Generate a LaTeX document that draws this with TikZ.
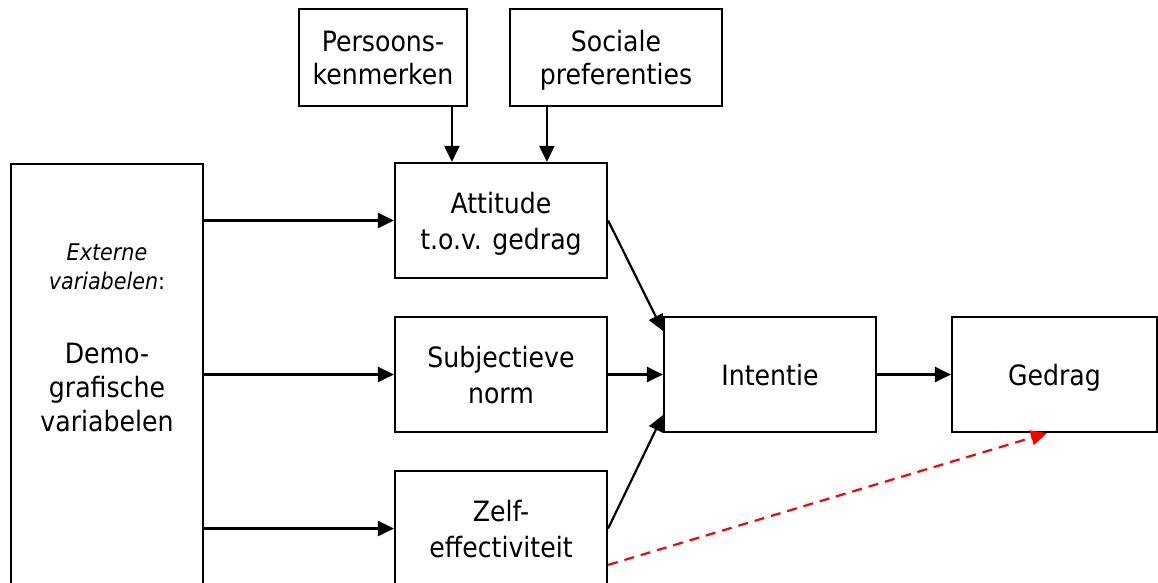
\documentclass[tikz,border=0pt]{standalone}
\usepackage{fontspec}
\setmainfont{DejaVu Sans Condensed}
\usetikzlibrary{arrows.meta,calc}

\begin{document}
\begin{tikzpicture}[x=1pt,y=-1pt,
  box/.style={draw,line width=2.2pt,align=center,inner sep=0pt,text depth=0pt,
    font=\fontsize{28}{36}\selectfont},
  topbox/.style={box,font=\fontsize{28}{33}\selectfont},
  label/.style={align=center,inner sep=0pt,text depth=0pt},
  arr/.style={line width=2.2pt,-{Triangle[length=16pt,width=15pt]}},
  hint/.style={red,line width=2.2pt,dash pattern=on 10pt off 7pt,
    -{Triangle[length=16pt,width=15pt]}},
]
\useasboundingbox (0,0) rectangle (1158,582);
\clip (0,0) rectangle (1158,582);

% upper antecedents
\node[topbox,minimum width=168pt,minimum height=97pt] (pk) at (383,57.5) {Persoons-\\kenmerken};
\node[topbox,minimum width=212pt,minimum height=97pt] (sp) at (616,57.5) {Sociale\\preferenties};

% external variables column (runs past the lower edge)
\node[box,minimum width=192pt,minimum height=480pt,anchor=north] (ext) at (107,163) {};
\node[label,font=\itshape\fontsize{23}{29}\selectfont] (extlab) at (107,267) {Externe\\variabelen\upshape{:}};
\node[label,font=\fontsize{28}{34}\selectfont] (demo) at (107,387) {Demo-\\grafische\\variabelen};

% determinants
\node[box,minimum width=212pt,minimum height=115pt] (att) at (501,220.5) {Attitude\\t.o.v. gedrag};
\node[box,minimum width=212pt,minimum height=115pt] (sub) at (501,374.5) {Subjectieve\\norm};
\node[box,minimum width=212pt,minimum height=115pt] (zelf) at (501,528.5) {Zelf-\\effectiviteit};

% intention and behaviour
\node[box,minimum width=212pt,minimum height=115pt] (int) at (770,374.5) {Intentie};
\node[box,minimum width=205pt,minimum height=115pt] (ged) at (1054.5,374.5) {Gedrag};

% arrows into the attitude box
\coordinate (a1) at ($(att.north west)+(58,0)$);
\coordinate (a2) at ($(att.north west)+(153,0)$);
\draw[arr] (a1 |- pk.south) -- (a1);
\draw[arr] (a2 |- sp.south) -- (a2);

% external variables to the determinants
\draw[arr] (ext.east |- att.west) -- (att.west);
\draw[arr] (ext.east |- sub.west) -- (sub.west);
\draw[arr] (ext.east |- zelf.west) -- (zelf.west);

% determinants to intention
\draw[arr] (att.east) -- ($(int.north west)+(0,15)$);
\draw[arr] (sub.east) -- (int.west);
\draw[arr] (zelf.east) -- ($(int.south west)+(0,-18)$);

% intention to behaviour
\draw[arr] (int.east) -- (ged.west);

% direct path from self-efficacy to behaviour
\draw[hint] ($(zelf.north east)+(0,95)$) -- ($(ged.south west)+(96,0)$);
\end{tikzpicture}
\end{document}
